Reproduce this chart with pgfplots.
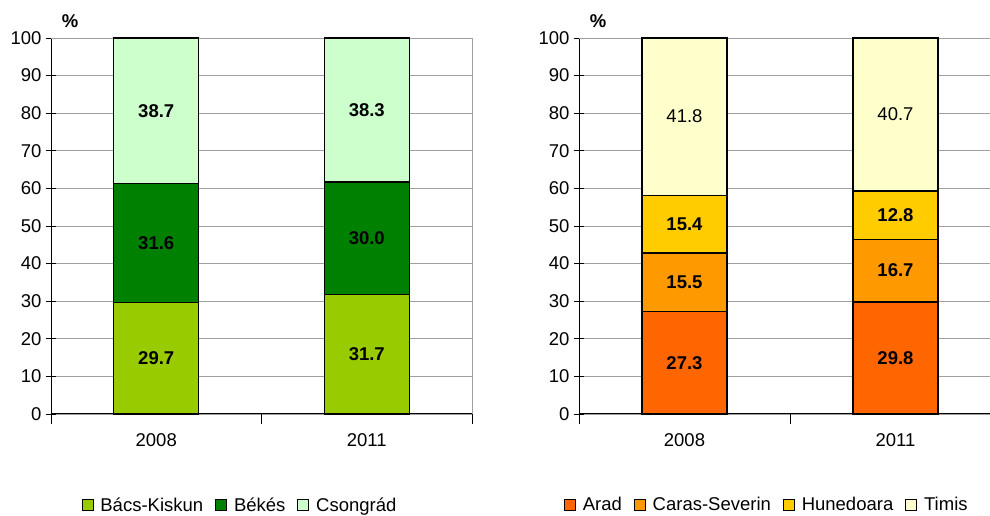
\documentclass[border=0pt]{standalone}
\usepackage{pgfplots}
\pgfplotsset{compat=1.18}
\usepackage{fontspec}
\setmainfont{Liberation Sans}
\definecolor{bk}{HTML}{99CC00}
\definecolor{be}{HTML}{008000}
\definecolor{cs}{HTML}{CCFFCC}
\definecolor{ar}{HTML}{FF6600}
\definecolor{ca}{HTML}{FF9900}
\definecolor{hu}{HTML}{FFCC00}
\definecolor{ti}{HTML}{FFFFCC}
\definecolor{gridc}{HTML}{A0A0A0}
\pgfplotsset{
  mybar/.style={fill=#1, draw=black, line width=1.2pt,
    legend image code/.code={\draw[fill=#1,draw=black,line width=0.8pt] (0pt,-5.5pt) rectangle (11pt,5.5pt);}},
  mystyle/.style={
    ybar stacked,
    scale only axis,
    height=376pt,
    ymin=0, ymax=100,
    ytick={0,10,...,100},
    xmin=-0.5,
    bar width=85pt,
    axis x line*=bottom,
    axis y line*=left,
    axis line style={black, line width=1pt},
    ymajorgrids,
    grid style={gridc, line width=0.9pt},
    y tick style={black, line width=0.9pt},
    ytick align=center,
    x tick style={black, line width=0.9pt},
    xtick align=outside,
    major tick length=10pt,
    xtick={-0.5,0.5,1.5},
    xticklabels={,,},
    extra x ticks={0,1},
    extra x tick labels={2008,2011},
    extra x tick style={major tick length=0pt, xticklabel style={yshift=-16pt}},
    /pgf/number format/assume math mode=true,
    ticklabel style={font=\fontsize{18.5}{22}\selectfont},
    yticklabel style={xshift=-1pt},
    legend style={draw=none, fill=none, legend columns=-1, anchor=center,
       font=\fontsize{18.5}{22}\selectfont,
       /tikz/every odd column/.append style={column sep=5pt},
       /tikz/every even column/.append style={column sep=10pt},
       inner sep=0pt, legend cell align=left},
    clip=false,
  },
  labaxis/.style={
    scale only axis, height=376pt, ymin=0, ymax=100, xmin=-0.5,
    hide axis, clip=false,
    nodes near coords, point meta=explicit symbolic,
    every node near coord/.append style={anchor=center, font=\fontsize{18.5}{22}\selectfont\bfseries},
  },
}
\begin{document}
\begin{tikzpicture}[x=1pt,y=1pt]
\useasboundingbox (0,0) rectangle (990,516);
% ---------- left panel
\begin{axis}[mystyle, at={(51pt,102pt)}, anchor=south west, width=421pt, xmax=1.5,
  legend style={at={(0.449,-0.242)}}]
\addplot[mybar=bk] coordinates {(0,29.7) (1,31.7)};
\addplot[mybar=be] coordinates {(0,31.6) (1,30.0)};
\addplot[mybar=cs] coordinates {(0,38.7) (1,38.3)};
\legend{Bács-Kiskun,Békés,Csongrád}
\draw[gridc, line width=0.9pt] (rel axis cs:0,1) -- (rel axis cs:1,1) -- (rel axis cs:1,0);
\node[font=\fontsize{18.5}{22}\selectfont\bfseries] at ([xshift=19pt,yshift=17pt]rel axis cs:0,1) {\%};
\end{axis}
\begin{axis}[labaxis, at={(51pt,102pt)}, anchor=south west, width=421pt, xmax=1.5]
\addplot[draw=none] coordinates {(0,14.85) [29.7] (1,15.85) [31.7]};
\addplot[draw=none] coordinates {(0,45.5) [31.6] (1,46.7) [30.0]};
\addplot[draw=none] coordinates {(0,80.65) [38.7] (1,80.85) [38.3]};
\end{axis}
% ---------- right panel
\begin{axis}[mystyle, at={(579pt,102pt)}, anchor=south west, width=411pt, xmax=1.448,
  legend style={at={(0.457,-0.242)}}]
\addplot[mybar=ar] coordinates {(0,27.3) (1,29.8)};
\addplot[mybar=ca] coordinates {(0,15.5) (1,16.7)};
\addplot[mybar=hu] coordinates {(0,15.4) (1,12.8)};
\addplot[mybar=ti] coordinates {(0,41.8) (1,40.7)};
\legend{Arad,Caras-Severin,Hunedoara,Timis}
\draw[gridc, line width=0.9pt] (rel axis cs:0,1) -- (rel axis cs:1,1);
\node[font=\fontsize{18.5}{22}\selectfont\bfseries] at ([xshift=19pt,yshift=17pt]rel axis cs:0,1) {\%};
\end{axis}
\begin{axis}[labaxis, at={(579pt,102pt)}, anchor=south west, width=411pt, xmax=1.448]
\addplot[draw=none] coordinates {(0,13.65) [27.3] (1,14.9) [29.8]};
\addplot[draw=none] coordinates {(0,35.05) [15.5] (1,38.15) [16.7]};
\addplot[draw=none] coordinates {(0,50.5) [15.4] (1,52.9) [12.8]};
\addplot[draw=none, every node near coord/.append style={font=\fontsize{18.5}{22}\selectfont\mdseries}] coordinates {(0,79.1) [41.8] (1,79.65) [40.7]};
\end{axis}
\end{tikzpicture}
\end{document}
